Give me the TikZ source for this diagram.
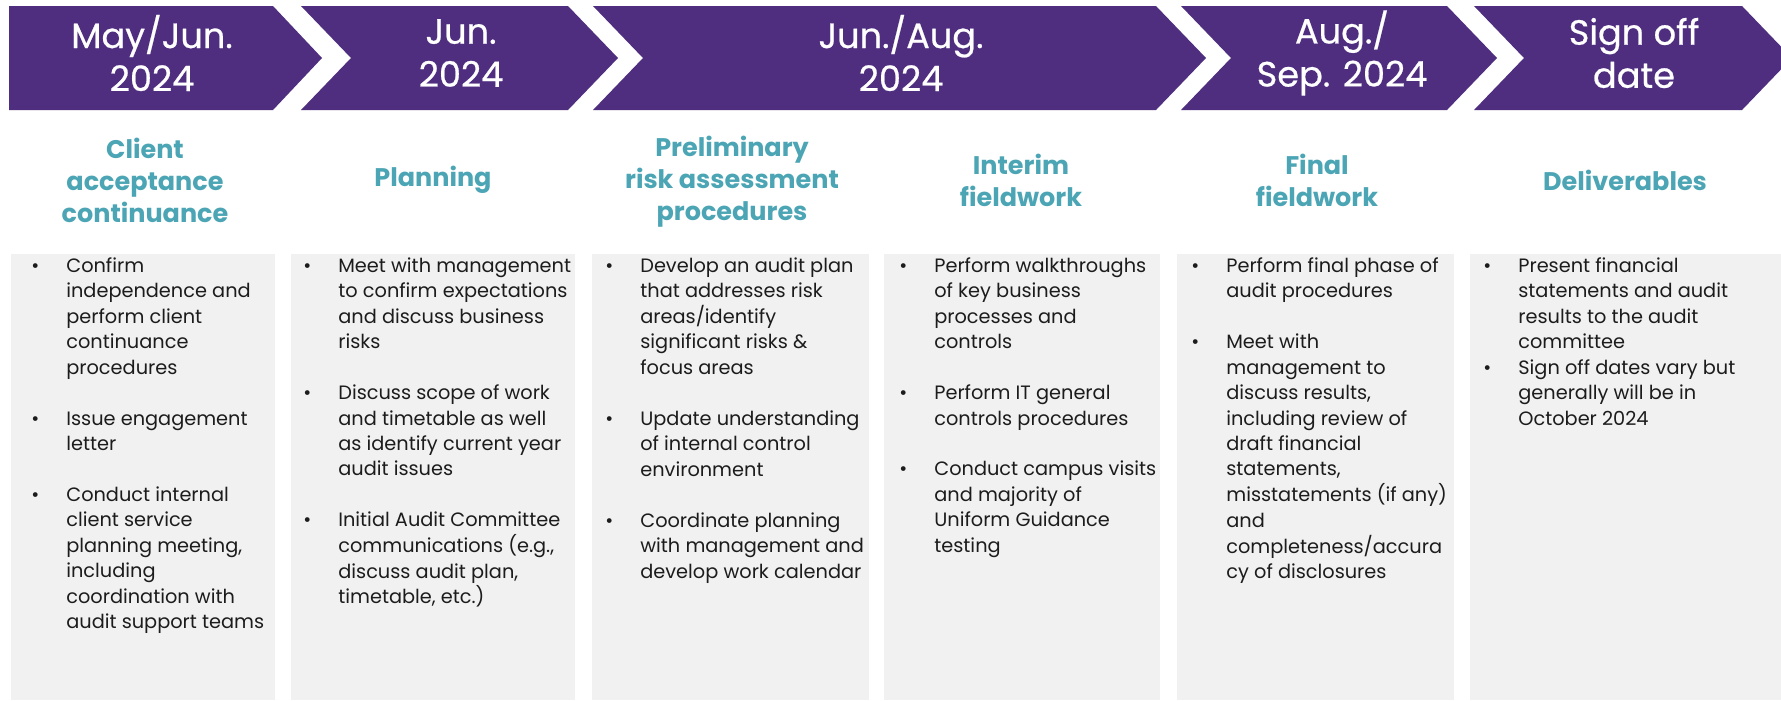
\documentclass[tikz,border=0pt]{standalone}
\usepackage{fontspec}
\setmainfont{Poppins}
\newfontfamily\datefont[BoldFont=Poppins,BoldFeatures={FakeBold=0.6}]{Poppins}
\usepackage{tikz}
\definecolor{gtpurple}{HTML}{4F2D7F}
\definecolor{gtteal}{HTML}{4BA5B4}
\definecolor{panelgrey}{HTML}{F1F1F1}
\definecolor{ink}{HTML}{1C1C1C}
% date banner: first one flat at the back, the rest notched
\def\chevA{(9,6) -- (273,6) -- (322,58) -- (273,110) -- (9,110) -- cycle}
\def\chevB{(301,6) -- (568,6) -- (618,58) -- (568,110) -- (301,110) -- (351,58) -- cycle}
\def\chevC{(593,6) -- (1156,6) -- (1206,58) -- (1156,110) -- (593,110) -- (643,58) -- cycle}
\def\chevD{(1181,6) -- (1447,6) -- (1497,58) -- (1447,110) -- (1181,110) -- (1231,58) -- cycle}
\def\chevE{(1474,6) -- (1742,6) -- (1792,58) -- (1742,110) -- (1474,110) -- (1524,58) -- cycle}
% grey columns under the phase titles
\def\colA{(11,254) rectangle (275,700)}
\def\colB{(291,254) rectangle (575,700)}
\def\colC{(592,254) rectangle (869,700)}
\def\colD{(884,254) rectangle (1160,700)}
\def\colE{(1177,254) rectangle (1454,700)}
\def\colF{(1470,254) rectangle (1781,700)}
\newcommand\items[1]{\begin{tabular}{@{}p{0.7cm}@{}l@{}}#1\end{tabular}}

\begin{document}
\begin{tikzpicture}[x=0.02cm,y=-0.02cm,
    date/.style={text=white,align=center,font=\fontsize{20}{24.5}\selectfont\datefont\bfseries},
    head/.style={text=gtteal,align=center,font=\fontsize{14.5}{18.2}\selectfont\bfseries},
    tasks/.style={text=ink,anchor=north west,inner sep=0pt,font=\fontsize{11}{14.5}\selectfont}]
   \clip (0,0) rectangle (1781,700);
   \fill[white] (0,0) rectangle (1781,700);
   % banners
   \fill[gtpurple] \chevA;
   \fill[gtpurple] \chevB;
   \fill[gtpurple] \chevC;
   \fill[gtpurple] \chevD;
   \fill[gtpurple] \chevE;
   \node (dateA) at (152,53) [date] {May/Jun.\\2024};
   \node (dateB) at (461,53) [date] {Jun.\\2024};
   \node (dateC) at (901,53) [date] {Jun./Aug.\\2024};
   \node (dateD) at (1342,53) [date] {Aug./\\Sep. 2024};
   \node (dateE) at (1634,53) [date] {Sign off\\date};
   % phase titles
   \node (accept) at (145,180) [head] {Client\\acceptance\\continuance};
   \node (plan) at (433,180) [head] {Planning};
   \node (risk) at (732,182) [head] {Preliminary\\risk assessment\\procedures};
   \node (interim) at (1021,180) [head] {Interim\\fieldwork};
   \node (final) at (1317,180) [head] {Final\\fieldwork};
   \node (deliver) at (1625,180) [head] {Deliverables};
   % columns
   \fill[panelgrey] \colA;
   \fill[panelgrey] \colB;
   \fill[panelgrey] \colC;
   \fill[panelgrey] \colD;
   \fill[panelgrey] \colE;
   \fill[panelgrey] \colF;
   \node (acceptList) at (31,254) [tasks] {\items{%
      \textbullet & Confirm\\
       & independence and\\
       & perform client\\
       & continuance\\
       & procedures\\
       & \\
      \textbullet & Issue engagement\\
       & letter\\
       & \\
      \textbullet & Conduct internal\\
       & client service\\
       & planning meeting,\\
       & including\\
       & coordination with\\
       & audit support teams}};
   \node (planList) at (303,254) [tasks] {\items{%
      \textbullet & Meet with management\\
       & to confirm expectations\\
       & and discuss business\\
       & risks\\
       & \\
      \textbullet & Discuss scope of work\\
       & and timetable as well\\
       & as identify current year\\
       & audit issues\\
       & \\
      \textbullet & Initial Audit Committee\\
       & communications (e.g.,\\
       & discuss audit plan,\\
       & timetable, etc.)}};
   \node (riskList) at (605,254) [tasks] {\items{%
      \textbullet & Develop an audit plan\\
       & that addresses risk\\
       & areas/identify\\
       & significant risks \&\\
       & focus areas\\
       & \\
      \textbullet & Update understanding\\
       & of internal control\\
       & environment\\
       & \\
      \textbullet & Coordinate planning\\
       & with management and\\
       & develop work calendar}};
   \node (interimList) at (899,254) [tasks] {\items{%
      \textbullet & Perform walkthroughs\\
       & of key business\\
       & processes and\\
       & controls\\
       & \\
      \textbullet & Perform IT general\\
       & controls procedures\\
       & \\
      \textbullet & Conduct campus visits\\
       & and majority of\\
       & Uniform Guidance\\
       & testing}};
   \node (finalList) at (1191,254) [tasks] {\items{%
      \textbullet & Perform final phase of\\
       & audit procedures\\
       & \\
      \textbullet & Meet with\\
       & management to\\
       & discuss results,\\
       & including review of\\
       & draft financial\\
       & statements,\\
       & misstatements (if any)\\
       & and\\
       & completeness/accura\\
       & cy of disclosures}};
   \node (deliverList) at (1483,254) [tasks] {\items{%
      \textbullet & Present financial\\
       & statements and audit\\
       & results to the audit\\
       & committee\\
      \textbullet & Sign off dates vary but\\
       & generally will be in\\
       & October 2024}};
\end{tikzpicture}
\end{document}
